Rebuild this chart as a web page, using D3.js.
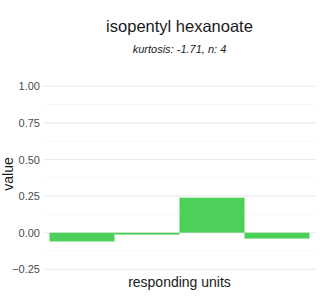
<!DOCTYPE html>
<html><head><meta charset="utf-8">
<script src="https://cdn.jsdelivr.net/npm/d3@7"></script>
<style>body{margin:0;background:#fff}svg{display:block;font-family:"Liberation Sans",Arial,Helvetica,sans-serif}</style>
</head><body><svg id="c" width="320" height="300"></svg>
<script>
const categories = ["u1","u2","u3","u4"];
const values = [-0.06, -0.013, 0.239, -0.04];
const yTicks = [-0.25, 0, 0.25, 0.5, 0.75, 1.0];
const yMinor = [-0.125, 0.125, 0.375, 0.625, 0.875];
const title = "isopentyl hexanoate";
const subtitle = "kurtosis: -1.71, n: 4";

const svg = d3.select("#c");
const left = 43, right = 316;
const x = d3.scaleBand().domain(categories).range([left, right]).paddingInner(0).paddingOuter(0.1);
const y = d3.scaleLinear().domain([-0.25, 1]).range([269.3, 86.3]);

svg.append("g").selectAll("line").data(yMinor).join("line")
  .attr("x1", left).attr("x2", right).attr("y1", d => y(d)).attr("y2", d => y(d))
  .attr("stroke", "#f4f4f4").attr("stroke-width", 0.6);
svg.append("g").selectAll("line").data(yTicks).join("line")
  .attr("x1", left).attr("x2", right).attr("y1", d => y(d)).attr("y2", d => y(d))
  .attr("stroke", "#ebebeb").attr("stroke-width", 1.1);

svg.append("g").selectAll("rect").data(values).join("rect")
  .attr("x", (d, i) => x(categories[i]))
  .attr("width", x.bandwidth())
  .attr("y", d => y(Math.max(0, d)))
  .attr("height", d => Math.abs(y(d) - y(0)))
  .attr("fill", "#4cd05a");

const yAxis = d3.axisLeft(y).tickValues(yTicks).tickFormat(d3.format(".2f")).tickSize(0).tickPadding(3);
const ga = svg.append("g").attr("transform", `translate(${left},0)`).call(yAxis);
ga.select(".domain").remove();
ga.selectAll("text").attr("font-size", 11).attr("fill", "#4d4d4d").attr("font-family", "Liberation Sans, Arial, sans-serif");

svg.append("text").attr("x", 179.5).attr("y", 32).attr("text-anchor", "middle")
  .attr("font-size", 16.5).attr("fill", "#1a1a1a").text(title);
svg.append("text").attr("x", 179.5).attr("y", 53).attr("text-anchor", "middle")
  .attr("font-size", 11).attr("font-style", "italic").attr("fill", "#1a1a1a").text(subtitle);
svg.append("text").attr("x", 179.5).attr("y", 287).attr("text-anchor", "middle")
  .attr("font-size", 14).attr("fill", "#1a1a1a").text("responding units");
svg.append("text").attr("transform", "translate(12.5,174) rotate(-90)").attr("text-anchor", "middle")
  .attr("font-size", 14).attr("fill", "#1a1a1a").text("value");
</script></body></html>
